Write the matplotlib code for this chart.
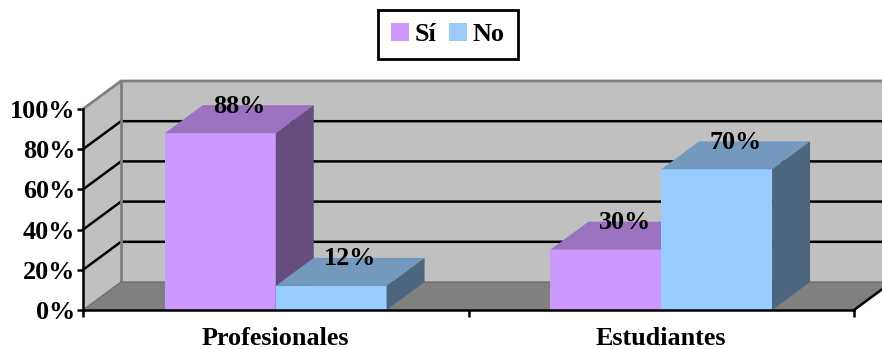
#!/usr/bin/env python3
"""3D-look stacked percentage bars: Sí / No by group."""

import matplotlib
matplotlib.use('Agg')
import matplotlib.pyplot as plt
from matplotlib.patches import Patch, Polygon

plt.rcParams['font.family'] = ['Liberation Serif', 'DejaVu Serif']
plt.rcParams['font.weight'] = 'bold'

categories = ['Profesionales', 'Estudiantes']
series_names = ['Sí', 'No']
si_values = [88, 30]
no_values = [12, 70]
y_ticks = [0, 20, 40, 60, 80, 100]

W, H = 882, 349
FONT = 18.8

# colours for front, top and side faces
FACES = {
    'Sí': ('#CC99FF', '#9973BF', '#664D80'),
    'No': ('#99CCFF', '#7399BF', '#4D6680'),
}

# depth offset of the box, in data units
DX = 38 / 385.5
DY = 28 / 2.01
BAR_W = 0.2875
BAR_START = 0.2125


def poly(ax, pts, color, z):
    ax.add_patch(Polygon(pts, closed=True, facecolor=color, edgecolor='none',
                         clip_on=False, zorder=z))


def draw_box(ax, x, value, name, z):
    front, top, side = FACES[name]
    x2 = x + BAR_W
    poly(ax, [(x, 0), (x2, 0), (x2, value), (x, value)], front, z)
    poly(ax, [(x, value), (x2, value), (x2 + DX, value + DY), (x + DX, value + DY)], top, z)
    poly(ax, [(x2, 0), (x2 + DX, DY), (x2 + DX, value + DY), (x2, value)], side, z)
    ax.text(x + BAR_W / 2 + DX / 2, value + DY - 0.5, f'{value}%', ha='center', va='center',
            fontsize=FONT, color='black', zorder=20)


fig = plt.figure(figsize=(W / 100, H / 100), dpi=100)
ax = fig.add_axes([83 / W, 1 - 310 / H, 771 / W, 201 / H])
ax.set_xlim(0, 2)
ax.set_ylim(0, 100)
ax.patch.set_visible(False)

# walls and floor
poly(ax, [(DX, DY), (2 + DX, DY), (2 + DX, 100 + DY), (DX, 100 + DY)], '#C0C0C0', 1)
poly(ax, [(0, 0), (DX, DY), (DX, 100 + DY), (0, 100)], '#C0C0C0', 1)
poly(ax, [(0, 0), (2, 0), (2 + DX, DY), (DX, DY)], '#808080', 1)

for t in y_ticks[1:-1]:
    ax.plot([0, DX, 2 + DX], [t, t + DY, t + DY], color='black', lw=1.8,
            clip_on=False, zorder=2, solid_joinstyle='miter')
ax.plot([0, DX, 2 + DX], [100, 100 + DY, 100 + DY], color='#808080', lw=2, clip_on=False, zorder=2)
ax.plot([DX, DX], [DY, 100 + DY], color='#808080', lw=2, clip_on=False, zorder=2)
ax.plot([0, DX, 2 + DX], [0, DY, DY], color='#707070', lw=1, clip_on=False, zorder=2)
ax.plot([2, 2 + DX], [0, DY], color='black', lw=1.8, clip_on=False, zorder=2)

# bars, left to right so nearer faces overlap correctly
for i in range(len(categories)):
    x0 = i + BAR_START
    draw_box(ax, x0, si_values[i], 'Sí', 5 + 2 * i)
    draw_box(ax, x0 + BAR_W, no_values[i], 'No', 6 + 2 * i)

for side in ['top', 'right']:
    ax.spines[side].set_visible(False)
for side in ['left', 'bottom']:
    ax.spines[side].set_linewidth(1.8)
    ax.spines[side].set_zorder(15)

ax.set_yticks(y_ticks)
ax.set_yticklabels([f'{t}%' for t in y_ticks], fontsize=FONT)
ax.tick_params(axis='y', length=4, width=1.8, pad=1.5)

ax.set_xticks([0, 1, 2])
ax.set_xticklabels([])
ax.set_xticks([0.5, 1.5], minor=True)
ax.set_xticklabels(categories, minor=True, fontsize=FONT)
ax.tick_params(axis='x', which='major', length=5, width=1.8)
ax.tick_params(axis='x', which='minor', length=0, pad=12)

handles = [Patch(facecolor=FACES[n][0], edgecolor='none', label=n) for n in series_names]
leg = fig.legend(handles=handles, loc='center', bbox_to_anchor=(448 / W, 1 - 34.5 / H),
                 ncol=2, frameon=True, fancybox=False, framealpha=1, edgecolor='black',
                 fontsize=FONT, handlelength=0.69, handleheight=0.69, handletextpad=0.2,
                 columnspacing=0.5, borderpad=0.5)
leg.get_frame().set_linewidth(2)

fig.savefig('out.png', dpi=100)
